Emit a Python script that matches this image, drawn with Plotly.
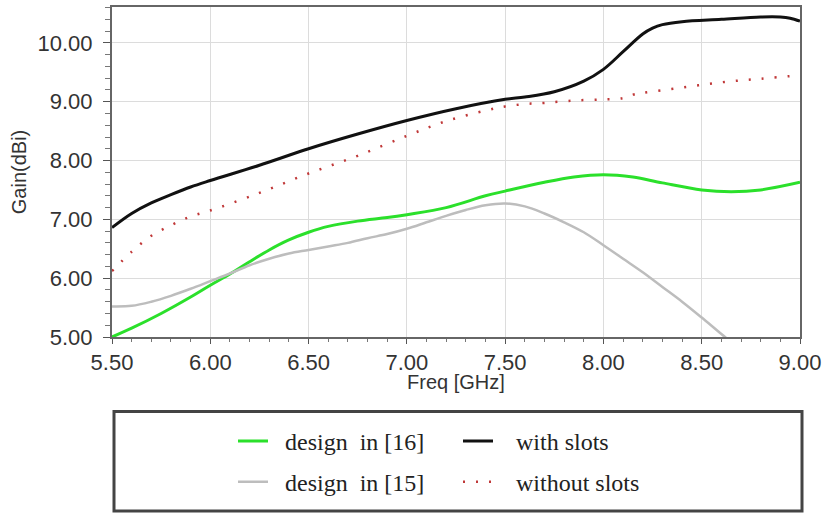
import plotly.graph_objects as go

# Gain vs. frequency for the four antenna variants
freq_slots = [5.50, 5.60, 5.70, 5.80, 5.90, 6.00, 6.25, 6.50, 6.75, 7.00, 7.25, 7.50,
              7.60, 7.75, 7.90, 8.00, 8.10, 8.20, 8.25, 8.30, 8.40, 8.60, 8.80, 8.90,
              8.95, 9.00]
gain_slots = [6.86, 7.10, 7.28, 7.42, 7.55, 7.66, 7.92, 8.20, 8.45, 8.68, 8.88, 9.04,
              9.08, 9.17, 9.35, 9.55, 9.85, 10.15, 10.25, 10.31, 10.36, 10.40, 10.44, 10.44,
              10.42, 10.37]

freq_noslots = [5.50, 5.60, 5.70, 5.80, 5.90, 6.00, 6.25, 6.50, 6.75, 7.00, 7.20, 7.40,
                7.50, 7.60, 7.70, 7.85, 8.00, 8.10, 8.15, 8.20, 8.40, 8.60, 8.80, 9.00]
gain_noslots = [6.12, 6.45, 6.72, 6.90, 7.05, 7.15, 7.45, 7.78, 8.08, 8.42, 8.67, 8.85,
                8.92, 8.96, 8.98, 9.02, 9.04, 9.06, 9.12, 9.15, 9.24, 9.33, 9.39, 9.45]

freq_d16 = [5.50, 5.60, 5.75, 5.90, 6.00, 6.10, 6.20, 6.30, 6.40, 6.50, 6.60, 6.75,
            6.90, 7.00, 7.20, 7.40, 7.50, 7.70, 7.85, 8.00, 8.15, 8.30, 8.50, 8.65,
            8.80, 9.00]
gain_d16 = [5.00, 5.15, 5.40, 5.68, 5.88, 6.07, 6.28, 6.48, 6.65, 6.78, 6.88, 6.97,
            7.03, 7.08, 7.20, 7.40, 7.48, 7.63, 7.72, 7.76, 7.72, 7.62, 7.50, 7.47,
            7.50, 7.63]

freq_d15 = [5.50, 5.60, 5.70, 5.80, 5.90, 6.00, 6.10, 6.20, 6.30, 6.40, 6.50, 6.60,
            6.70, 6.80, 6.90, 7.00, 7.10, 7.20, 7.30, 7.40, 7.50, 7.60, 7.70, 7.80,
            7.90, 8.00, 8.10, 8.20, 8.30, 8.40, 8.50, 8.60, 8.70]
gain_d15 = [5.52, 5.53, 5.60, 5.70, 5.82, 5.95, 6.08, 6.22, 6.33, 6.42, 6.48, 6.54,
            6.60, 6.68, 6.75, 6.84, 6.95, 7.06, 7.16, 7.24, 7.27, 7.22, 7.10, 6.95,
            6.78, 6.56, 6.33, 6.10, 5.85, 5.60, 5.33, 5.05, 4.78]

x_ticks = [5.5, 6.0, 6.5, 7.0, 7.5, 8.0, 8.5, 9.0]
y_ticks = [5, 6, 7, 8, 9, 10]

W, H = 827, 516
ML, MR, MT, MB = 112, 27, 5, 179
plot_w = W - ML - MR
plot_h = H - MT - MB


def px_to_paper_x(px):
    return (px - ML) / plot_w


def px_to_paper_y(py):
    return (H - MB - py) / plot_h


NB = "\u00a0"

fig = go.Figure()

fig.add_trace(go.Scatter(
    x=freq_d16, y=gain_d16, mode="lines", name=NB * 2 + "design" + NB * 2 + "in [16]",
    line=dict(color="#2be02b", width=3, shape="spline"), legend="legend"))
fig.add_trace(go.Scatter(
    x=freq_slots, y=gain_slots, mode="lines", name=NB * 3 + "with slots",
    line=dict(color="#111111", width=3, shape="spline"), legend="legend"))
fig.add_trace(go.Scatter(
    x=freq_d15, y=gain_d15, mode="lines", name=NB * 2 + "design" + NB * 2 + "in [15]",
    line=dict(color="#bdbdbd", width=2.5, shape="spline"), legend="legend2"))
fig.add_trace(go.Scatter(
    x=freq_noslots, y=gain_noslots, mode="lines", name=NB * 3 + "without slots",
    line=dict(color="#c03838", width=2.5, dash="2px,11px", shape="spline"),
    legend="legend2"))

legend_font = dict(family="Liberation Serif", size=24, color="#222222")
common_legend = dict(orientation="h", xanchor="left", yanchor="middle",
                     bgcolor="rgba(0,0,0,0)", borderwidth=0, font=legend_font,
                     entrywidth=180, entrywidthmode="pixels")

# frame around the legend area
fig.add_shape(type="rect", xref="paper", yref="paper",
              x0=px_to_paper_x(114), x1=px_to_paper_x(802),
              y0=px_to_paper_y(512), y1=px_to_paper_y(412),
              line=dict(color="#444444", width=3), fillcolor="rgba(0,0,0,0)")

tick_font = dict(family="Liberation Sans", size=22, color="#333333")
title_font = dict(family="Liberation Sans", size=20, color="#333333")

# x-axis title placed just under the tick labels
fig.add_annotation(text="Freq [GHz]", xref="paper", yref="paper",
                   x=0.5, y=px_to_paper_y(369), xanchor="center", yanchor="top",
                   showarrow=False, font=title_font)

fig.update_layout(
    width=W, height=H,
    margin=dict(l=ML, r=MR, t=MT, b=MB),
    paper_bgcolor="white", plot_bgcolor="white",
    legend=dict(x=px_to_paper_x(233), y=px_to_paper_y(442), **common_legend),
    legend2=dict(x=px_to_paper_x(233), y=px_to_paper_y(483), **common_legend),
    xaxis=dict(
        range=[5.5, 9.0], tickvals=x_ticks, ticktext=[f"{v:.2f}" for v in x_ticks],
        showgrid=True, gridcolor="#dcdcdc", gridwidth=1,
        showline=True, linecolor="#666666", linewidth=2, mirror=True,
        ticks="outside", ticklen=5, tickcolor="#555555",
        minor=dict(dtick=0.1, ticks="outside", ticklen=3, tickcolor="#777777", showgrid=False),
        tickfont=tick_font, zeroline=False,
    ),
    yaxis=dict(
        range=[5.0, 10.61], tickvals=y_ticks, ticktext=[f"{v:.2f}" for v in y_ticks],
        showgrid=True, gridcolor="#dcdcdc", gridwidth=1,
        showline=True, linecolor="#666666", linewidth=2, mirror=True,
        ticks="outside", ticklen=7, tickcolor="#555555", ticklabelstandoff=6,
        minor=dict(dtick=0.2, ticks="outside", ticklen=5, tickcolor="#777777", showgrid=False),
        tickfont=tick_font, zeroline=False,
        title=dict(text="Gain(dBi)", font=title_font, standoff=6),
    ),
)

fig.write_html("out.html")
